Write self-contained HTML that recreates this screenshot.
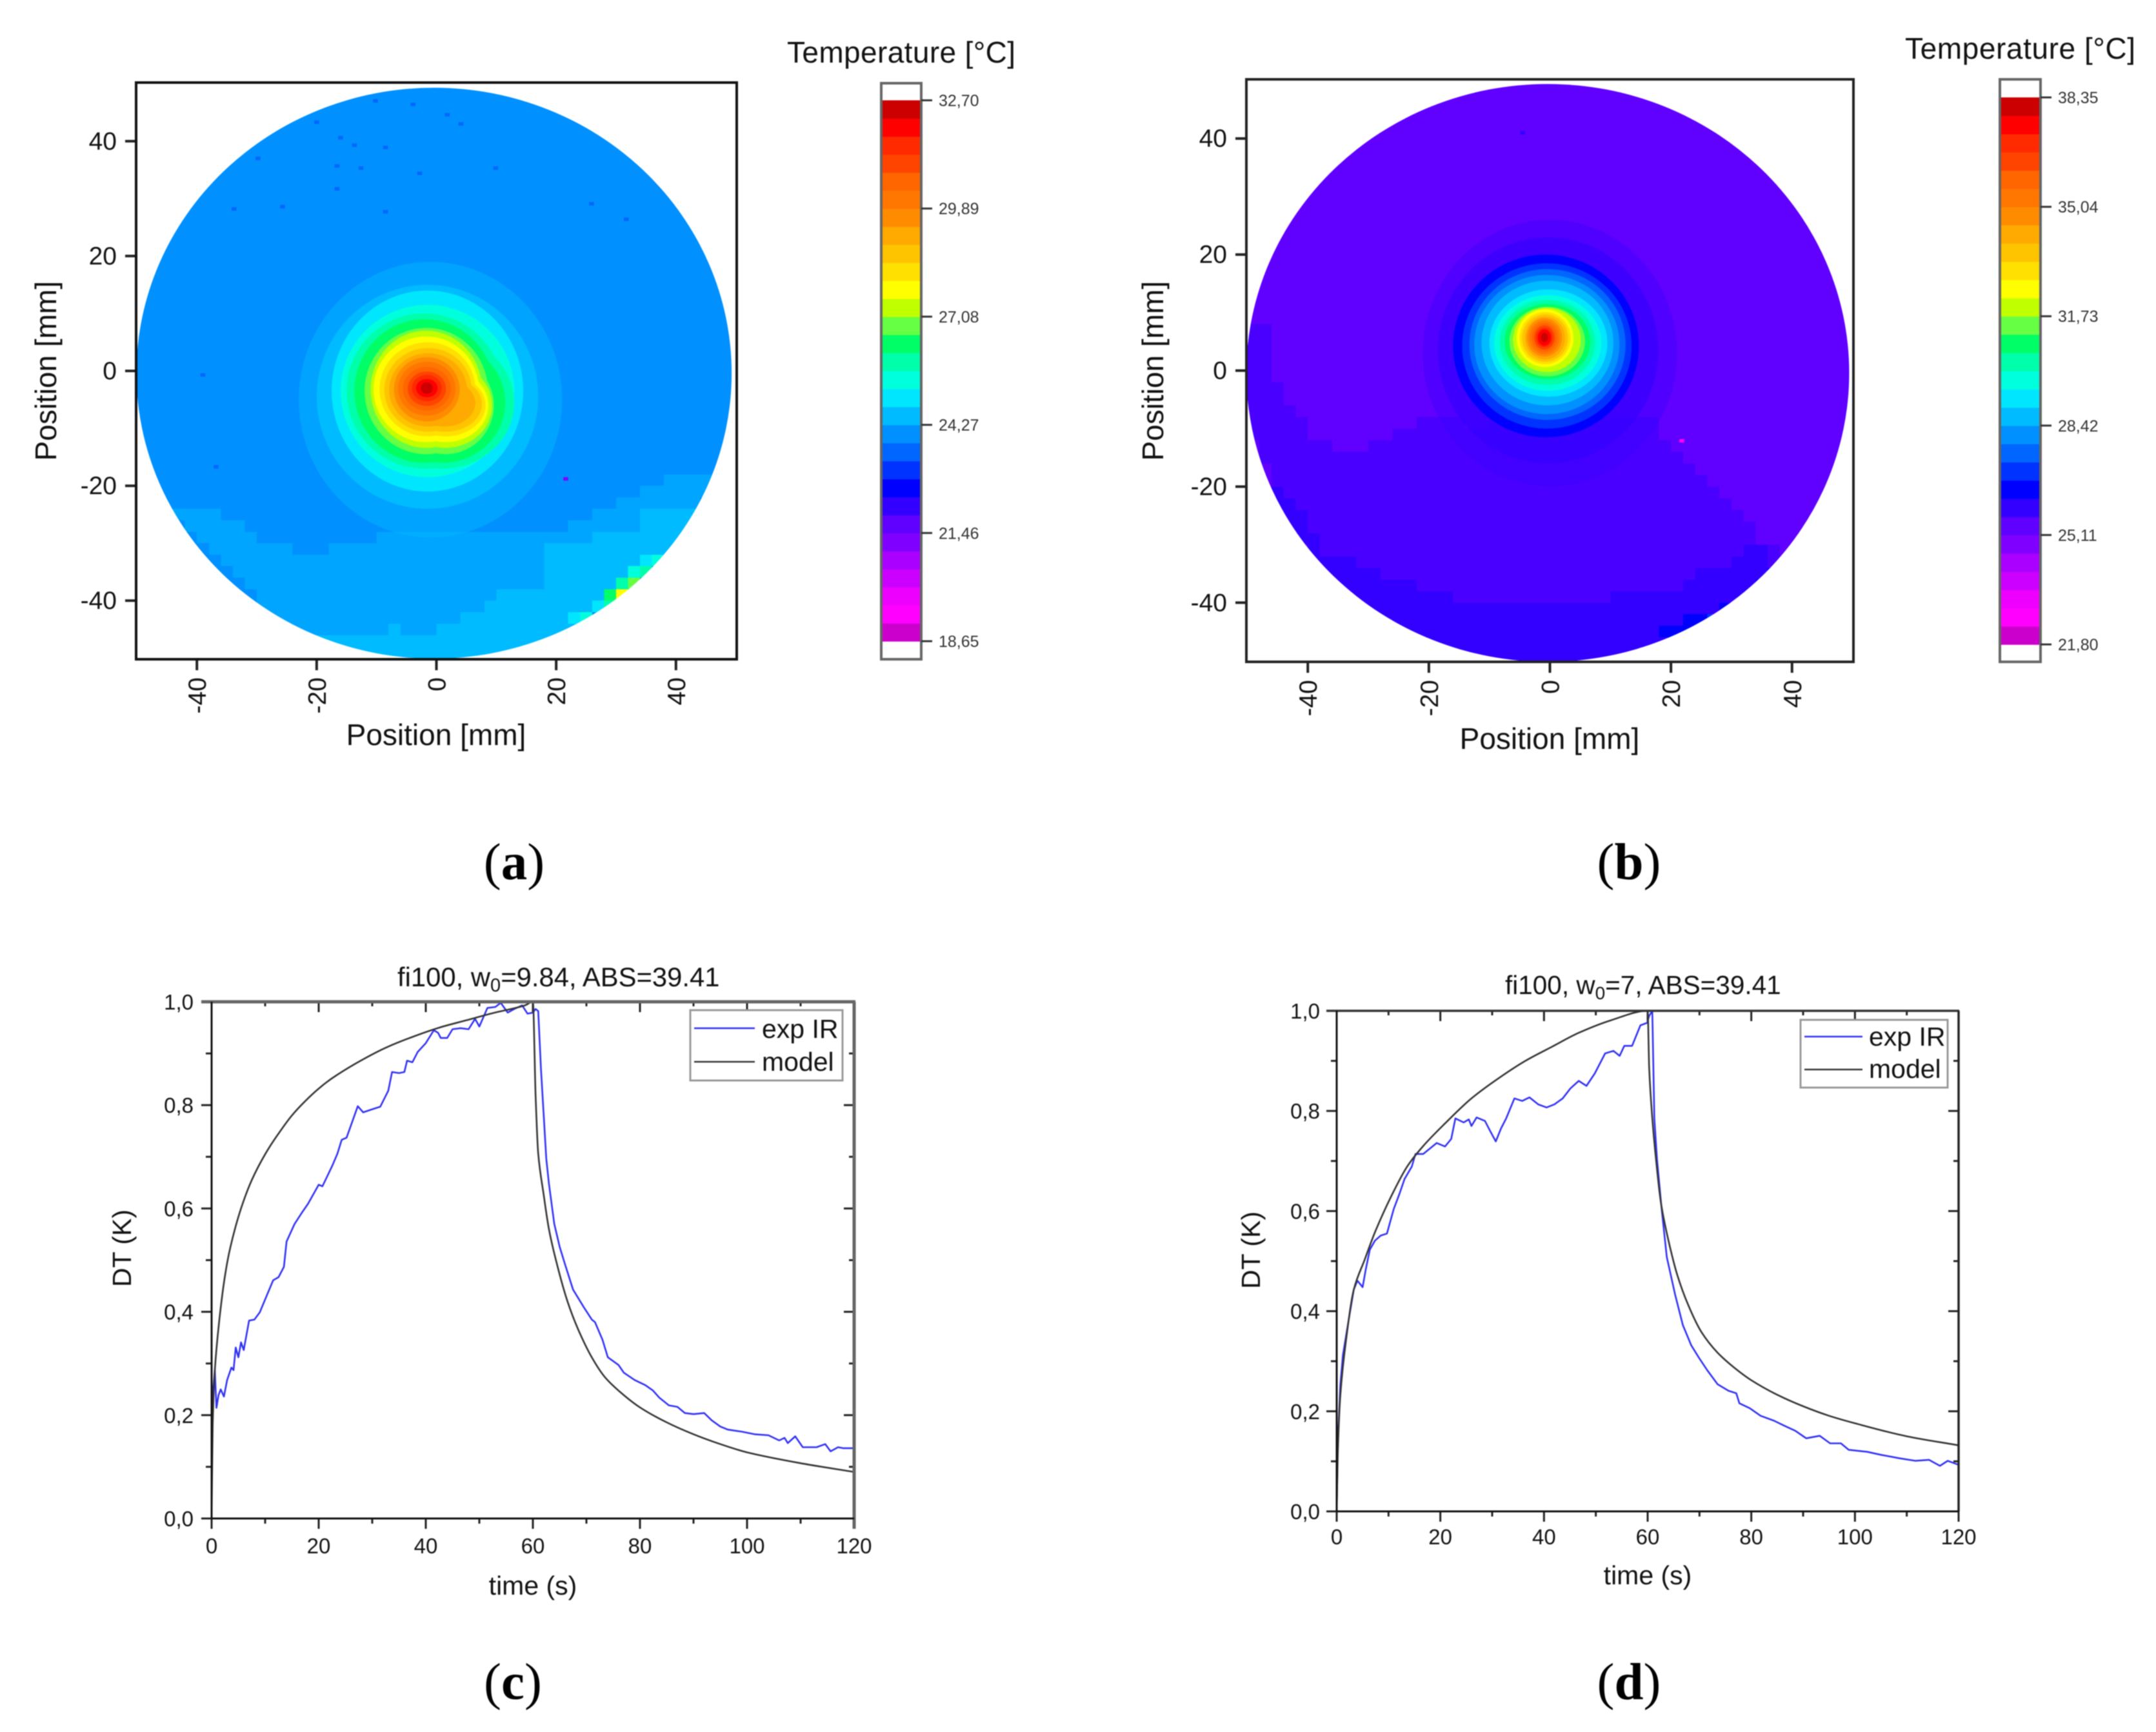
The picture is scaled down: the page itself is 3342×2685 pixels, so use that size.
<!DOCTYPE html>
<html lang="en">
<head>
<meta charset="utf-8">
<title>Temperature maps and DT curves</title>
<style>
html,body{margin:0;padding:0;background:#fff;}
svg{display:block;filter:blur(0.8px);font-family:"Liberation Sans",sans-serif;fill:#111;}
.cap{font-family:"Liberation Serif",serif;font-size:81px;text-anchor:middle;fill:#000;}
</style>
</head>
<body>
<svg xmlns="http://www.w3.org/2000/svg" width="3342" height="2685" viewBox="0 0 3342 2685">
<rect x="0" y="0" width="3342" height="2685" fill="#fff"/>

<g id="panel-a"></g>
<rect x="211" y="128" width="931" height="894" fill="none" stroke="#111" stroke-width="4"/>
<text x="676" y="1155" font-size="46" text-anchor="middle">Position [mm]</text>
<text transform="translate(87,575) rotate(-90)" font-size="46" text-anchor="middle">Position [mm]</text>
<text x="1220" y="97" font-size="46" textLength="354">Temperature [°C]</text>
<g id="colorbar-a"></g>
<text class="cap" x="797" y="1363">(<tspan font-weight="700">a</tspan>)</text>

<g id="panel-b"></g>
<rect x="1932" y="123" width="941" height="903" fill="none" stroke="#222" stroke-width="4"/>
<text x="2402" y="1161" font-size="46" text-anchor="middle">Position [mm]</text>
<text transform="translate(1803,575) rotate(-90)" font-size="46" text-anchor="middle">Position [mm]</text>
<text x="2953" y="91" font-size="46" textLength="357">Temperature [°C]</text>
<g id="colorbar-b"></g>
<text class="cap" x="2525" y="1363">(<tspan font-weight="700">b</tspan>)</text>

<g id="chart-c"></g>
<line x1="312" y1="1553" x2="1326" y2="1553" stroke="#666" stroke-width="5"/>
<line x1="328" y1="1553" x2="328" y2="2354" stroke="#111" stroke-width="3"/>
<line x1="1324" y1="1553" x2="1324" y2="2370" stroke="#666" stroke-width="5"/>
<line x1="328" y1="2354" x2="1324" y2="2354" stroke="#111" stroke-width="3"/>
<text x="616" y="1529" font-size="41.8">fi100, w<tspan dy="8" font-size="29">0</tspan><tspan dy="-8">=9.84, ABS=39.41</tspan></text>
<text x="826" y="2472" font-size="41" text-anchor="middle">time (s)</text>
<text transform="translate(203,1935) rotate(-90)" font-size="41" text-anchor="middle">DT (K)</text>
<g>
  <rect x="1070" y="1566" width="236" height="109" fill="#fff" stroke="#999" stroke-width="3"/>
  <line x1="1076" y1="1594" x2="1170" y2="1594" stroke="#3030f0" stroke-width="2.6"/>
  <text x="1181" y="1609" font-size="41">exp IR</text>
  <line x1="1076" y1="1646" x2="1170" y2="1646" stroke="#333" stroke-width="2.6"/>
  <text x="1181" y="1660" font-size="41">model</text>
</g>
<text class="cap" x="795" y="2634">(<tspan font-weight="700">c</tspan>)</text>

<g id="chart-d"></g>
<line x1="2056" y1="1567" x2="3037" y2="1567" stroke="#333" stroke-width="3.5"/>
<line x1="2072" y1="1567" x2="2072" y2="2343" stroke="#111" stroke-width="3"/>
<line x1="3036" y1="1567" x2="3036" y2="2343" stroke="#222" stroke-width="3.5"/>
<line x1="2072" y1="2343" x2="3036" y2="2343" stroke="#111" stroke-width="3"/>
<text x="2333" y="1541" font-size="40.5">fi100, w<tspan dy="8" font-size="28">0</tspan><tspan dy="-8">=7, ABS=39.41</tspan></text>
<text x="2554" y="2456" font-size="41" text-anchor="middle">time (s)</text>
<text transform="translate(1953,1938) rotate(-90)" font-size="41" text-anchor="middle">DT (K)</text>
<g>
  <rect x="2791" y="1581" width="228" height="105" fill="#fff" stroke="#999" stroke-width="3"/>
  <line x1="2797" y1="1607" x2="2887" y2="1607" stroke="#3030f0" stroke-width="2.6"/>
  <text x="2897" y="1621" font-size="41">exp IR</text>
  <line x1="2797" y1="1658" x2="2887" y2="1658" stroke="#333" stroke-width="2.6"/>
  <text x="2897" y="1671" font-size="41">model</text>
</g>
<text class="cap" x="2525" y="2634">(<tspan font-weight="700">d</tspan>)</text>
</svg>

<script>
// ---------- shared colour levels (low to high) ----------
const colormap = ['#cc00cc','#ff00ff','#ee00ff','#cc00ff','#aa00ff','#8000ff','#6000ff','#3300ff','#0000ff','#0033ff',
  '#0066ff','#0090ff','#00bbff','#00e6ff','#00ffdd','#00ffaa','#00ff66','#66ff44','#c0ff00','#ffff00',
  '#ffe000','#ffc400','#ffaa00','#ff8c00','#ff7700','#ff6600','#ff4400','#ff2a00','#ff0000','#cc0000'];
// grid characters u and v are speckled areas: the mean colour of levels 6/7 and 11/12
const mixedColors = ['#4a00ff','#00a5ff'];

// ---------- heat map tick values ----------
const positionTicks = [-40,-20,0,20,40];
const tempTicksA = [18.65,21.46,24.27,27.08,29.89,32.70];
const tempTicksB = [21.80,25.11,28.42,31.73,35.04,38.35];

// ---------- panel a: 2 mm background cells, level per cell (base 36), top row first ----------
const gridA = [
'bbbbbbbbbbbbbbbbbbbbbbbbbbbbbbbbbbbbbbbbbbbbbbbbbb',
'bbbbbbbbbbbbbbbbbbbbbbbbbbbbbbbbbbbbbbbbbbbbbbbbbb',
'bbbbbbbbbbbbbbbbbbbbbbbbbbbbbbbbbbbbbbbbbbbbbbbbbb',
'bbbbbbbbbbbbbbbbbbbbbbbbbbbbbbbbbbbbbbbbbbbbbbbbbb',
'bbbbbbbbbbbbbbbbbbbbbbbbbbbbbbbbbbbbbbbbbbbbbbbbbb',
'bbbbbbbbbbbbbbbbbbbbbbbbbbbbbbbbbbbbbbbbbbbbbbbbbb',
'bbbbbbbbbbbbbbbbbbbbbbbbbbbbbbbbbbbbbbbbbbbbbbbbbb',
'bbbbbbbbbbbbbbbbbbbbbbbbbbbbbbbbbbbbbbbbbbbbbbbbbb',
'bbbbbbbbbbbbbbbbbbbbbbbbbbbbbbbbbbbbbbbbbbbbbbbbbb',
'bbbbbbbbbbbbbbbbbbbbbbbbbbbbbbbbbbbbbbbbbbbbbbbbbb',
'bbbbbbbbbbbbbbbbbbbbbbbbbbbbbbbbbbbbbbbbbbbbbbbbbb',
'bbbbbbbbbbbbbbbbbbbbbbbbbbbbbbbbbbbbbbbbbbbbbbbbbb',
'bbbbbbbbbbbbbbbbbbbbbbbbbbbbbbbbbbbbbbbbbbbbbbbbbb',
'bbbbbbbbbbbbbbbbbbbbbbbbbbbbbbbbbbbbbbbbbbbbbbbbbb',
'bbbbbbbbbbbbbbbbbbbbbbbbbbbbbbbbbbbbbbbbbbbbbbbbbb',
'bbbbbbbbbbbbbbbbbbbbbbbbbbbbbbbbbbbbbbbbbbbbbbbbbb',
'bbbbbbbbbbbbbbbbbbbbbbbbbbbbbbbbbbbbbbbbbbbbbbbbbb',
'bbbbbbbbbbbbbbbbbbbbbbbbbbbbbbbbbbbbbbbbbbbbbbbbbb',
'bbbbbbbbbbbbbbbbbbbbbbbbbbbbbbbbbbbbbbbbbbbbbbbbbb',
'bbbbbbbbbbbbbbbbbbbbbbbbbbbbbbbbbbbbbbbbbbbbbbbbbb',
'bbbbbbbbbbbbbbbbbbbbbbbbbbbbbbbbbbbbbbbbbbbbbbbbbb',
'bbbbbbbbbbbbbbbbbbbbbbbbbbbbbbbbbbbbbbbbbbbbbbbbbb',
'bbbbbbbbbbbbbbbbbbbbbbbbbbbbbbbbbbbbbbbbbbbbbbbbbb',
'bbbbbbbbbbbbbbbbbbbbbbbbbbbbbbbbbbbbbbbbbbbbbbbbbb',
'bbbbbbbbbbbbbbbbbbbbbbbbbbbbbbbbbbbbbbbbbbbbbbbbbb',
'bbbbbbbbbbbbbbbbbbbbbbbbbbbbbbbbbbbbbbbbbbbbbbbbbb',
'bbbbbbbbbbbbbbbbbbbbbbbbbbbbbbbbbbbbbbbbbbbbbbbbbb',
'bbbbbbbbbbbbbbbbbbbbbbbbbbbbbbbbbbbbbbbbbbbbbbbbbb',
'bbbbbbbbbbbbbbbbbbbbbbbbbbbbbbbbbbbbbbbbbbbbbbbbbb',
'bbbbbbbbbbbbbbbbbbbbbbbbbbbbbbbbbbbbbbbbbbbbbbbbbb',
'bbbbbbbbbbbbbbbbbbbbbbbbbbbbbbbbbbbbbbbbbbbbbbbbbb',
'bbbbbbbbbbbbbbbbbbbbbbbbbbbbbbbbbbbbbbbbbbbbbbbbbb',
'bbbbbbbbbbbbbbbbbbbbbbbbbbbbbbbbbbbbbbbbbbbbbbbbbb',
'bbbbbbbbbbbbbbbbbbbbbbbbbbbbbbbbbbbbbbbbbbbbbbbbbb',
'bbbbbbbbbbbbbbbbbbbbbbbbbbbbbbbbbbbbbbbbbbbbvvvvbb',
'bbbbbbbbbbbbbbbbbbbbbbbbbbbbbbbbbbbbbbbbbbvvvvvvbb',
'bbbbbbbbbbbbbbbbbbbbbbbbbbbbbbbbbbbbbbbbvvvvvvvbbb',
'bbbvvvvbbbbbbbbbbbbbbbbbbbbbbbbbbbbbbbvvvvccccccvb',
'bbbbvvvvvbbbbbbbbbbbbbbbbbbbbbbbbbbbvvvvvvccccccbb',
'bbbbbvvvvvbbbbbbbbbbvvvvvvvvvvvvvvvvvvccccccccbbbb',
'bbbbbbvvvvvvvbbbvvvvvvvvvvvvvvvvvvcccccccccccccbbb',
'bbbbbbbvvvvvvvvvvvvvvvvvvvvvvvvvvvccccccccdebbbbbb',
'bbbbbbbbvvvvvvvvvvvvvvvvvvvvvvvvvvcccccccefbbbbbbb',
'bbbbbbbbbvvvvvvvvvvvvvvvvvvvvvvvvvccccccfhbbbbbbbb',
'bbbbbbbbbbvvvvvvvvvvvvvvvvvvvvcccccccccgjbbbbbbbbb',
'bbbbbbbbbbvvvvvvvvvvvvvvvvvvvcccccccccdfbbbbbbbbbb',
'bbbbbbbbbbbvvvvvvvvvvvvvvvvcccccccccdebbbbbbbbbbbb',
'bbbbbbbbbbbbvvvvvvvvvcvvvccccccccccccccbbbbbbbbbbb',
'cccccccccccccccccccccccccccccccccccccccccccccccccc',
'cccccccccccccccccccccccccccccccccccccccccccccccccc'];

// panel a: disk extent (mm), contour bands (level, centre, half widths in mm), and single specks
const diskA = [-0.4,-0.4,49.7];
const bandLevelA = [12,12,13,14,15,15,16,16,17,17,18,18,19,19,20,20,21,21,22,22,23,24,25,26,27,28,29];
const bandCxA = [-1,-1.5,-1.5,-1.5,-2,1,-2,1,-1.7,1.5,-1.7,1.5,-1.7,1.5,-1.5,1.5,-1.4,1.5,-1.4,1.3,-1.6,-1.6,-1.6,-1.6,-1.6,-1.6,-1.6];
const bandCyA = [-5,-4.5,-3.5,-3.5,-3.5,-5.5,-3.5,-5.5,-3.5,-6,-3.2,-6,-3.2,-6,-3.2,-6,-3.3,-5.8,-3.3,-5.6,-3.2,-3.1,-3.1,-3.1,-3,-3,-3];
const bandRxA = [22,18.5,16,14.5,13,12,11.7,10.5,10.3,8.1,9.3,7.8,8.8,7.2,8,6.7,7.3,6.1,6.5,5.2,5.5,4.8,4,3.2,2.5,1.8,1];
const bandRyA = [24,19.5,17.5,15,13.5,11.5,12.5,10.5,11,8.5,10.2,7.4,9.2,6.4,8.2,5.4,7.3,4.8,6.4,4.1,5.6,4.7,3.8,3,2.3,1.6,1];
const bandAlphaA = [0.45];
const speckXA = [-10.2,-3.9,-16,-13.7,-16.6,-12.6,-8.5,-25.7,-33.8,31.7,-29.8,-20,1.8,4.1,9.9,-2.8,-8.5,-16.6,25.9,-39,-36.8,21.6];
const speckYA = [47,46.4,40.6,39.3,35.7,35.3,27.7,28.6,28.2,26.4,37,43.3,44.6,43,35.3,34.4,38.9,31.7,29.1,-0.7,-16.7,-18.8];
const speckLevelA = [10,10,10,10,10,10,10,10,10,10,10,10,10,10,10,10,10,10,10,10,10,5];

// ---------- panel b ----------
const gridB = [
'66666666666666666666666666666666666666666666666666',
'66666666666666666666666666666666666666666666666666',
'66666666666666666666666666666666666666666666666666',
'66666666666666666666666666666666666666666666666666',
'66666666666666666666666666666666666666666666666666',
'66666666666666666666666666666666666666666666666666',
'66666666666666666666666666666666666666666666666666',
'66666666666666666666666666666666666666666666666666',
'66666666666666666666666666666666666666666666666666',
'66666666666666666666666666666666666666666666666666',
'66666666666666666666666666666666666666666666666666',
'66666666666666666666666666666666666666666666666666',
'66666666666666666666666666666666666666666666666666',
'66666666666666666666666666666666666666666666666666',
'66666666666666666666666666666666666666666666666666',
'66666666666666666666666666666666666666666666666666',
'66666666666666666666666666666666666666666666666666',
'66666666666666666666666666666666666666666666666666',
'66666666666666666666666666666666666666666666666666',
'66666666666666666666666666666666666666666666666666',
'66666666666666666666666666666666666666666666666666',
'uu666666666666666666666666666666666666666666666666',
'uu666666666666666666666666666666666666666666666666',
'uu666666666666666666666666666666666666666666666666',
'uu666666666666666666666666666666666666666666666666',
'uu666666666666666666666666666666666666666666666666',
'uuu66666666666666666666666666666666666666666666666',
'uuu66666666666666666666666666666666666666666666666',
'uuuu6666666666666666666666666666666666666666666666',
'uuuuu666666666uuuu66uuuuuuuuuuuuuu6666666666666666',
'uuuuu6666666uuuuuuuuuuuuuuuuuuuuuu6666666666666666',
'6uuuuuu666uuuuuuuuuuuuuuuuuuuuuuuuu666666666666666',
'6uuuuuuuuuuuuuuuuuuuuuuuuuuuuuuuuuuu66666666666666',
'66uuuuuuuuuuuuuuuuuuuuuuuuuuuuuuuuuuu6666666666666',
'66uuuuuuuuuuuuuuuuuuuuuuuuuuuuuuuuuuuu666666666666',
'667uuuuuuuuuuuuuuuuuuuuuuuuuuuuuuuuuuuu66666666666',
'6677uuuuuuuuuuuuuuuuuuuuuuuuuuuuuuuuuuuu6666666666',
'66677uuuuuuuuuuuuuuuuuuuuuuuuuuuuuuuuuuuu666666666',
'66677uuuuuuuuuuuuuuuuuuuuuuuuuuuuuuuuuuuuu66666666',
'666677uuuuuuuuuuuuuuuuuuuuuuuuuuuuuuuuuuuu66666666',
'666667uuuuuuuuuuuuuuuuuuuuuuuuuuuuuuuuuuu77u666666',
'666667777uuuuuuuuuuuuuuuuuuuuuuuuuuuuuuu777u666666',
'66666677777uuuuuuuuuuuuuuuuuuuuuuuuuu7777778666666',
'66666667777777uuuuuuuuuuuuuuuuuuuuuu77777788966666',
'66666666777777777uuuuuuuuuuuuu77777777777889666666',
'66666666677777777777777777777777777777788966666666',
'66666666667777777777777777777777777788966666666666',
'66666666666777777777777777777777778886666666666666',
'66666666666666777777777777777777777866666666666666',
'66666666666666677777777777777777786666666666666666'];

const diskB = [-0.35,-0.4,49.8];
const bandLevelB = [7,7,8,9,10,11,12,13,14,15,16,17,18,19,20,21,22,23,24,25,26,27,28,29];
const bandCxB = [0,-0.3,-0.65,-0.5,-0.4,-0.5,-0.4,-0.25,-0.35,-0.4,-0.4,-0.45,-0.5,-0.8,-0.8,-0.8,-0.8,-0.9,-0.9,-0.9,-0.9,-0.9,-0.9,-0.9];
const bandCyB = [3,3.5,4.25,4.25,4.5,4.5,4.75,4.75,4.75,4.85,5,5,5.3,5.6,5.6,5.6,5.6,5.7,5.7,5.7,5.7,5.7,5.7,5.7];
const bandRxB = [21,18.2,15.35,14,12.9,12,10.9,9.75,8.85,7.9,7.1,6.25,5.6,4.7,4.2,3.8,3.3,2.9,2.5,2.1,1.7,1.4,1.1,0.6];
const bandRyB = [23,19.5,15.75,14.25,13,12,10.75,9.25,8.25,7.35,6.5,6,5.55,5,4.5,4.1,3.7,3.3,2.9,2.5,2.1,1.7,1.4,0.8];
const bandAlphaB = [0.35,0.65];
const speckXB = [21.8,-4.5];
const speckYB = [-12.1,41];
const speckLevelB = [1,7];

// ---------- line chart ticks ----------
const timeTicks = [0,20,40,60,80,100,120];
const timeMinorTicks = [10,30,50,70,90,110];
const dtTicks = [0,0.2,0.4,0.6,0.8,1.0];
const dtTickLabels = ['0,0','0,2','0,4','0,6','0,8','1,0'];
const dtMinorTicks = [0.1,0.3,0.5,0.7,0.9];

// ---------- chart c series ----------
const timeExpC = [0,0.02,0.2,0.6,0.9,1.3,1.7,2.3,2.9,3.7,4.1,4.5,5,5.5,6,7,8,9,10,11.5,12.5,13.5,14,15.5,17,18,20,20.7,22.5,23.5,24.3,25.2,27.3,28.3,30,31.5,33,33.7,35,36,36.5,37.5,38.5,40,41.5,42.3,42.8,44,45,46.5,48,49.2,50,51.5,53,54,55.3,56.5,58,59,60,60.5,61,61.5,62.5,63,64,65,66,67.5,69.5,71,71.6,73,74,76,77,79,81,82.4,83.6,85.4,87,88.4,90,92,93.4,95,96.4,99,101.4,104,106,107,107.6,109,110.4,113,114.6,115.6,117,118,120];
const dtExpC = [0,0.083,0.239,0.287,0.214,0.239,0.25,0.236,0.268,0.292,0.287,0.331,0.312,0.341,0.326,0.383,0.385,0.399,0.424,0.461,0.467,0.487,0.536,0.57,0.594,0.609,0.646,0.643,0.682,0.706,0.733,0.737,0.798,0.786,0.792,0.797,0.828,0.864,0.862,0.864,0.886,0.883,0.903,0.92,0.945,0.94,0.93,0.93,0.947,0.949,0.947,0.967,0.952,0.988,0.99,0.998,0.979,0.986,0.993,0.977,0.979,0.986,0.982,0.871,0.696,0.648,0.57,0.526,0.492,0.443,0.409,0.385,0.38,0.346,0.312,0.297,0.282,0.268,0.258,0.248,0.234,0.219,0.216,0.204,0.202,0.204,0.19,0.178,0.172,0.168,0.163,0.161,0.151,0.156,0.146,0.159,0.138,0.138,0.144,0.13,0.138,0.136,0.136];
const timeModelC = [0,0.2,0.6,1.5,2.5,3.5,5.5,7.5,10,12.5,15,17.5,20,22.5,27.5,32.5,37.5,42.5,47.5,52.5,58.5,60,60.5,61,62,63,64.5,66.5,68.5,71,73.5,76.5,80,85,90,95,100,110,120];
const dtModelC = [0,0.18,0.287,0.389,0.47,0.525,0.6,0.655,0.705,0.745,0.78,0.808,0.832,0.852,0.884,0.911,0.932,0.95,0.964,0.978,0.993,1,0.823,0.706,0.628,0.56,0.492,0.419,0.365,0.312,0.273,0.243,0.215,0.186,0.163,0.144,0.128,0.107,0.09];

// ---------- chart d series ----------
const timeExpD = [0,0.2,0.7,1.2,2.3,3.3,4,5,5.6,6.4,7.4,8.5,9.7,11,12.1,13.1,14.5,15.2,16.7,19.3,20.9,22.1,22.9,24.5,25.5,26,27,28.6,29.6,30.7,31.7,32.7,34.3,35.8,37.2,38.9,40.5,42,43.6,45.1,46.7,48.2,49.8,51.8,53.4,54.6,55.5,57,58.6,59.9,60.3,60.9,61.3,61.8,62.7,63.7,65.3,66.8,68.4,69.9,71.5,73.5,75.6,77.1,77.7,79.7,81.8,84.4,86.4,88.5,90.6,93.2,95.2,97.3,98.8,102.4,105,108.6,111.7,114.3,116.4,117.9,120];
const dtExpD = [0,0.131,0.252,0.312,0.382,0.443,0.461,0.448,0.483,0.523,0.541,0.551,0.555,0.604,0.634,0.664,0.689,0.714,0.714,0.736,0.729,0.744,0.785,0.777,0.783,0.77,0.787,0.78,0.76,0.739,0.765,0.785,0.825,0.82,0.827,0.813,0.807,0.813,0.825,0.845,0.86,0.85,0.875,0.915,0.92,0.91,0.93,0.93,0.971,0.976,0.99,1,0.785,0.704,0.604,0.508,0.433,0.372,0.332,0.307,0.282,0.254,0.241,0.236,0.216,0.206,0.191,0.181,0.171,0.161,0.146,0.151,0.136,0.136,0.123,0.119,0.113,0.106,0.101,0.103,0.091,0.101,0.093];
const timeModelD = [0,0.2,0.7,1.8,3.3,5.4,7.4,10.5,13.6,16.7,20.9,26,31.2,36.4,41.5,46.7,52.9,60,60.3,60.9,61.6,62.6,64.2,65.7,67.8,70.4,73.5,76.6,80,85,90,95,100,110,120];
const dtModelD = [0,0.11,0.231,0.342,0.443,0.503,0.558,0.629,0.689,0.73,0.775,0.825,0.865,0.9,0.928,0.956,0.981,1,0.885,0.785,0.704,0.614,0.533,0.473,0.413,0.358,0.317,0.288,0.262,0.233,0.21,0.191,0.176,0.15,0.132];

const NS = 'http://www.w3.org/2000/svg';
const cellColors = colormap.concat(mixedColors);
function linear(d0,d1,r0,r1){return function(v){return r0+(v-d0)*(r1-r0)/(d1-d0);};}
function make(tag,attrs,parent){
  const el=document.createElementNS(NS,tag);
  for(const k in attrs){el.setAttribute(k,attrs[k]);}
  parent.appendChild(el);
  return el;
}

function drawHeatPanel(root,id,rows,disk,band,speck,box,labelRight,labelTop){
  const x=linear(-50.15,50.15,box.left,box.right);
  const y=linear(-50.2,50.2,box.bottom,box.top);
  const defs=make('defs',{},root);
  const clip=make('clipPath',{id:'disk-clip-'+id},defs);
  make('ellipse',{cx:x(disk[0]),cy:y(disk[1]),rx:Math.abs(x(disk[2])-x(0)),ry:Math.abs(y(disk[2])-y(0))},clip);
  const field=make('g',{'clip-path':'url(#disk-clip-'+id+')'},root);
  
  
  rows.forEach(function(row,j){
    let i=0;
    while(i<row.length){
      let k=i;
      while(k+1<row.length && row[k+1]===row[i]){k++;}
      const x0=x(-50+2*i), x1=x(-50+2*(k+1)), y0=y(50-2*j), y1=y(50-2*(j+1));
      const cell=make('rect',{x:x0,y:y0,width:x1-x0,height:y1-y0+0.5,fill:cellColors[parseInt(row[i],36)],'shape-rendering':'crispEdges'},field);
      
      
      i=k+1;
    }
  });
  band.level.forEach(function(level,n){
    const alpha=band.alpha[n]===undefined?1:band.alpha[n];
    const e=make('ellipse',{cx:x(band.cx[n]),cy:y(band.cy[n]),rx:Math.abs(x(band.rx[n])-x(0)),ry:Math.abs(y(band.ry[n])-y(0)),fill:colormap[level],'fill-opacity':alpha},field);
    
    
  });
  speck.level.forEach(function(level,n){
    const s=make('rect',{x:x(speck.x[n]-0.4),y:y(speck.y[n]+0.3),width:x(0.8)-x(0),height:y(0)-y(0.6),fill:colormap[level]},field);
    
    
  });
  positionTicks.forEach(function(v){
    const tx=make('line',{x1:x(v),x2:x(v),y1:box.bottom,y2:box.bottom+17,stroke:'#222','stroke-width':4},root);
    
    
    const lx=make('text',{transform:'translate('+(x(v)+14)+','+labelTop+') rotate(-90)','font-size':39,'text-anchor':'end'},root);
    lx.textContent=String(v);
    
    
    const ty=make('line',{x1:box.left-17,x2:box.left,y1:y(v),y2:y(v),stroke:'#222','stroke-width':4},root);
    
    
    const ly=make('text',{x:labelRight,y:y(v)+13,'font-size':39,'text-anchor':'end'},root);
    ly.textContent=String(v);
    
    
  });
}

function drawColorbar(root,ticks,b){
  const n=colormap.length;
  const t=linear(ticks[0],ticks[ticks.length-1],b.colorBottom,b.colorTop);
  const h=(b.colorBottom-b.colorTop)/n;
  colormap.forEach(function(c,i){
    const band=make('rect',{x:b.left,y:b.colorBottom-(i+1)*h,width:b.right-b.left,height:h+0.6,fill:c},root);
    
    
  });
  const frame=make('rect',{x:b.left,y:b.top,width:b.right-b.left,height:b.bottom-b.top,fill:'none',stroke:'#666','stroke-width':4},root);
  
  
  ticks.forEach(function(v){
    const tick=make('line',{x1:b.right,x2:b.right+17,y1:t(v),y2:t(v),stroke:'#333','stroke-width':3},root);
    
    
    const label=make('text',{x:b.labelX,y:t(v)+9,'font-size':25,fill:'#333'},root);
    label.textContent=v.toFixed(2).replace('.',',');
    
    
  });
}

// monotone cubic path so the model curve stays smooth without overshooting its peak
function monotonePath(px,py){
  const n=px.length, m=[], tan=[];
  for(let i=0;i<n-1;i++){m.push((py[i+1]-py[i])/(px[i+1]-px[i]));}
  tan.push(m[0]);
  for(let i=1;i<n-1;i++){tan.push(m[i-1]*m[i]<=0?0:2*m[i-1]*m[i]/(m[i-1]+m[i]));}
  tan.push(m[n-2]);
  let d='M'+px[0].toFixed(1)+' '+py[0].toFixed(1);
  for(let i=0;i<n-1;i++){
    const h=(px[i+1]-px[i])/3;
    d+=' C'+(px[i]+h).toFixed(1)+' '+(py[i]+tan[i]*h).toFixed(1)+' '+(px[i+1]-h).toFixed(1)+' '+(py[i+1]-tan[i+1]*h).toFixed(1)+' '+px[i+1].toFixed(1)+' '+py[i+1].toFixed(1);
  }
  return d;
}

function drawChart(root,tExp,vExp,tModel,vModel,box,labelRight,xLabelBase){
  const x=linear(0,120,box.left,box.right);
  const y=linear(0,1,box.bottom,box.top);
  function ticksX(values,len,inner){
    values.forEach(function(v){
      const bot=make('line',{x1:x(v),x2:x(v),y1:box.bottom,y2:box.bottom+len,stroke:'#222','stroke-width':3},root);
      
      
      const top=make('line',{x1:x(v),x2:x(v),y1:box.top,y2:box.top+inner,stroke:'#222','stroke-width':3},root);
      
      
    });
  }
  function ticksY(values,len,inner){
    values.forEach(function(v){
      const l=make('line',{x1:box.left-len,x2:box.left,y1:y(v),y2:y(v),stroke:'#222','stroke-width':3},root);
      
      
      const r=make('line',{x1:box.right-inner,x2:box.right,y1:y(v),y2:y(v),stroke:'#222','stroke-width':3},root);
      
      
    });
  }
  ticksX(timeTicks,16,16);
  ticksX(timeMinorTicks,8,7);
  ticksY(dtTicks,16,16);
  ticksY(dtMinorTicks,9,8);
  timeTicks.forEach(function(v){
    const t=make('text',{x:x(v),y:xLabelBase,'font-size':33,'text-anchor':'middle'},root);
    t.textContent=String(v);
    
    
  });
  dtTicks.forEach(function(v,i){
    const t=make('text',{x:labelRight,y:y(v)+12,'font-size':33,'text-anchor':'end'},root);
    t.textContent=dtTickLabels[i];
    
    
  });
  const expPts=tExp.map(function(t,i){return x(t).toFixed(1)+','+y(vExp[i]).toFixed(1);}).join(' ');
  const exp=make('polyline',{points:expPts,fill:'none',stroke:'#3030f0','stroke-width':2.6,'stroke-linejoin':'round'},root);
  
  
  const model=make('path',{d:monotonePath(tModel.map(x),vModel.map(y)),fill:'none',stroke:'#333','stroke-width':2.6},root);
  
  
}

drawHeatPanel(document.getElementById('panel-a'),'a',gridA,diskA,
  {level:bandLevelA,cx:bandCxA,cy:bandCyA,rx:bandRxA,ry:bandRyA,alpha:bandAlphaA},
  {x:speckXA,y:speckYA,level:speckLevelA},
  {left:211,right:1142,top:128,bottom:1022},181,1050);
drawHeatPanel(document.getElementById('panel-b'),'b',gridB,diskB,
  {level:bandLevelB,cx:bandCxB,cy:bandCyB,rx:bandRxB,ry:bandRyB,alpha:bandAlphaB},
  {x:speckXB,y:speckYB,level:speckLevelB},
  {left:1932,right:2873,top:123,bottom:1026},1902,1054);
drawColorbar(document.getElementById('colorbar-a'),tempTicksA,{left:1366,right:1428,top:129,bottom:1022,colorTop:155.5,colorBottom:994,labelX:1455});
drawColorbar(document.getElementById('colorbar-b'),tempTicksB,{left:3100,right:3163,top:123,bottom:1026,colorTop:151,colorBottom:999,labelX:3190});
drawChart(document.getElementById('chart-c'),timeExpC,dtExpC,timeModelC,dtModelC,{left:328,right:1324,top:1553,bottom:2354},300,2408);
drawChart(document.getElementById('chart-d'),timeExpD,dtExpD,timeModelD,dtModelD,{left:2072,right:3036,top:1567,bottom:2343},2046,2394);
</script>
</body>
</html>
